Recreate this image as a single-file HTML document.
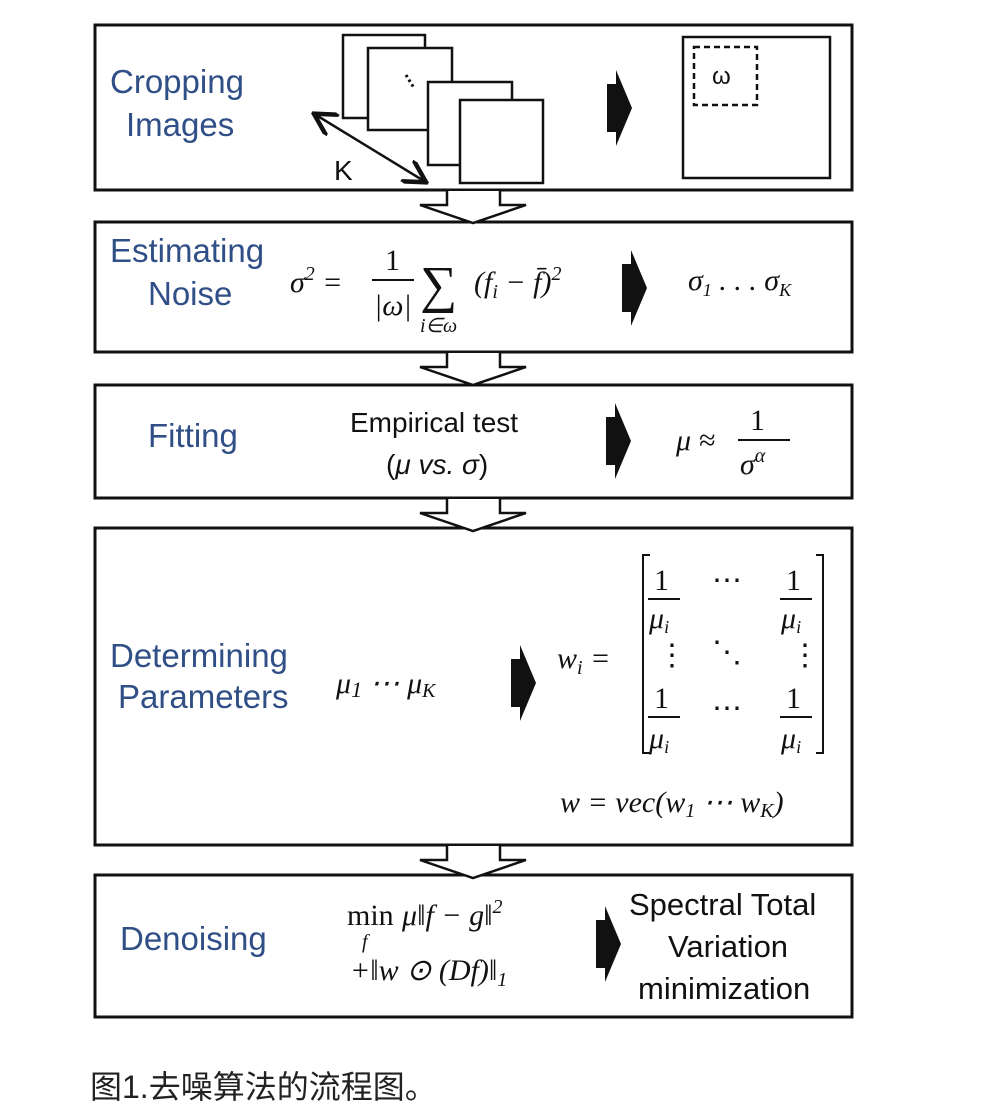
<!DOCTYPE html>
<html><head><meta charset="utf-8"><style>
body{margin:0;background:#fff;width:1000px;height:1114px;overflow:hidden}
svg{display:block}
.b{font-family:"Liberation Sans",sans-serif;fill:#2f4f86;font-size:33px}
.m{font-family:"Liberation Serif",serif;font-style:italic;fill:#111;font-size:30px}
.n{font-family:"Liberation Sans",sans-serif;fill:#111;font-size:28px}
.r{font-family:"Liberation Serif",serif;fill:#111;font-size:30px}
</style></head><body>
<svg width="1000" height="1114" viewBox="0 0 1000 1114" xmlns="http://www.w3.org/2000/svg">
<defs>
<marker id="ah" markerWidth="10" markerHeight="10" refX="8" refY="5" orient="auto-start-reverse"><path d="M0,0 L9,5 L0,10" fill="none" stroke="#111" stroke-width="1.8"/></marker>
<g id="ra"><path d="M0,-24 L9,-24 L9,-38 L25,0 L9,38 L9,24 L0,24 Z" fill="#111"/></g>
<g id="da"><path d="M447,0 L447,14 L420,14 L473,32 L526,14 L500,14 L500,0" fill="#fff" stroke="#111" stroke-width="2.5"/></g>
</defs>
<g fill="none" stroke="#111" stroke-width="3">
<rect x="95" y="25" width="757" height="165"/>
<rect x="95" y="222" width="757" height="130"/>
<rect x="95" y="385" width="757" height="113"/>
<rect x="95" y="528" width="757" height="317"/>
<rect x="95" y="875" width="757" height="142"/>
</g>
<use href="#da" y="191"/><use href="#da" y="353"/><use href="#da" y="499"/><use href="#da" y="846"/>
<g fill="#fff" stroke="#111" stroke-width="2.5">
<rect x="343" y="35" width="82" height="83"/>
<rect x="368" y="48" width="84" height="82"/>
<rect x="428" y="82" width="84" height="83"/>
<rect x="460" y="100" width="83" height="83"/>
<rect x="683" y="37" width="147" height="141"/>
</g>
<rect x="694" y="47" width="63" height="58" fill="none" stroke="#111" stroke-width="2.5" stroke-dasharray="6,4"/>
<text x="712" y="84" class="n" style="font-size:24px">ω</text>
<path d="M406,75 L414,88" stroke="#111" stroke-width="3" stroke-dasharray="2.5,3"/>
<line x1="316" y1="115" x2="424" y2="181" stroke="#111" stroke-width="2.5" marker-start="url(#ah)" marker-end="url(#ah)"/>
<text x="334" y="180" class="n">K</text>
<use href="#ra" x="607" y="108"/>
<use href="#ra" x="622" y="288"/>
<use href="#ra" x="606" y="441"/>
<use href="#ra" x="511" y="683"/>
<use href="#ra" x="596" y="944"/>
<text class="b" x="110" y="93">Cropping</text>
<text class="b" x="126" y="136">Images</text>
<text class="b" x="110" y="262">Estimating</text>
<text class="b" x="148" y="305">Noise</text>
<text class="b" x="148" y="447">Fitting</text>
<text class="b" x="110" y="667">Determining</text>
<text class="b" x="118" y="708">Parameters</text>
<text class="b" x="120" y="950">Denoising</text>
<text class="m" x="290" y="292">σ<tspan class="r" dy="-12" style="font-size:20px">2</tspan><tspan class="r" dy="12"> = </tspan></text>
<text class="r" x="385" y="270">1</text>
<line x1="372" y1="280" x2="414" y2="280" stroke="#111" stroke-width="2"/>
<text class="m" x="374" y="315">|ω|</text>
<text class="r" x="420" y="302" style="font-size:52px">∑</text>
<text class="m" x="420" y="332" style="font-size:20px">i∈ω</text>
<text class="m" x="474" y="292">(f<tspan style="font-size:20px" dy="6">i</tspan><tspan dy="-6"> − f̄)</tspan><tspan class="r" dy="-12" style="font-size:20px">2</tspan></text>
<text class="m" x="688" y="290">σ<tspan style="font-size:18px" dy="6">1</tspan><tspan dy="-6"> . . .  σ</tspan><tspan style="font-size:18px" dy="6">K</tspan></text>
<text class="n" x="350" y="432" style="font-size:28px">Empirical test</text>
<text class="n" x="386" y="474" style="font-size:28px">(<tspan font-style="italic">μ vs. σ</tspan>)</text>
<text class="m" x="676" y="450">μ <tspan class="r">≈</tspan></text>
<text class="r" x="750" y="430">1</text>
<line x1="738" y1="440" x2="790" y2="440" stroke="#111" stroke-width="2"/>
<text class="m" x="740" y="474">σ<tspan style="font-size:20px" dy="-12">α</tspan></text>
<text class="m" x="336" y="693">μ<tspan class="r" style="font-size:22px" dy="4">1</tspan><tspan class="r" dy="-4">  ⋯  </tspan>μ<tspan style="font-size:20px" dy="4">K</tspan></text>
<text class="m" x="557" y="668">w<tspan style="font-size:20px" dy="6">i</tspan><tspan class="r" dy="-6"> =</tspan></text>
<path d="M650,555 L643,555 L643,753 L650,753 M816,555 L823,555 L823,753 L816,753" fill="none" stroke="#111" stroke-width="2"/>
<g class="r">
<text x="654" y="590" class="r">1</text><text x="786" y="590" class="r">1</text>
<text x="649" y="628" class="m">μ<tspan style="font-size:18px" dy="5">i</tspan></text><text x="781" y="628" class="m">μ<tspan style="font-size:18px" dy="5">i</tspan></text>
<text x="654" y="708" class="r">1</text><text x="786" y="708" class="r">1</text>
<text x="649" y="748" class="m">μ<tspan style="font-size:18px" dy="5">i</tspan></text><text x="781" y="748" class="m">μ<tspan style="font-size:18px" dy="5">i</tspan></text>
<text x="712" y="590" class="r">⋯</text><text x="712" y="718" class="r">⋯</text>
<text x="657" y="665" class="r">⋮</text><text x="790" y="665" class="r">⋮</text><text x="712" y="662" class="r">⋱</text>
</g>
<g stroke="#111" stroke-width="2"><line x1="648" y1="599" x2="680" y2="599"/><line x1="780" y1="599" x2="812" y2="599"/><line x1="648" y1="717" x2="680" y2="717"/><line x1="780" y1="717" x2="812" y2="717"/></g>
<text class="m" x="560" y="812">w <tspan class="r">=</tspan> vec(w<tspan class="r" style="font-size:20px" dy="5">1</tspan><tspan class="r" dy="-5"> ⋯ </tspan>w<tspan style="font-size:20px" dy="5">K</tspan><tspan dy="-5">)</tspan></text>
<text class="r" x="347" y="925">min</text><text class="m" x="362" y="948" style="font-size:20px">f</text>
<text class="m" x="402" y="925">μ<tspan class="r">‖</tspan>f <tspan class="r">−</tspan> g<tspan class="r">‖</tspan><tspan class="r" style="font-size:20px" dy="-12">2</tspan></text>
<text class="m" x="350" y="980"><tspan class="r">+‖</tspan>w <tspan class="r">⊙ </tspan>(Df)<tspan class="r">‖</tspan><tspan class="r" style="font-size:20px" dy="6">1</tspan></text>
<text class="n" x="629" y="915" style="font-size:31px">Spectral Total</text>
<text class="n" x="668" y="957" style="font-size:31px">Variation</text>
<text class="n" x="638" y="999" style="font-size:31px">minimization</text>
<text x="90" y="1098" style="font-family:'Liberation Sans','Noto Sans CJK SC',sans-serif;font-size:32px;fill:#222">图1.去噪算法的流程图。</text>
</svg>
</body></html>
